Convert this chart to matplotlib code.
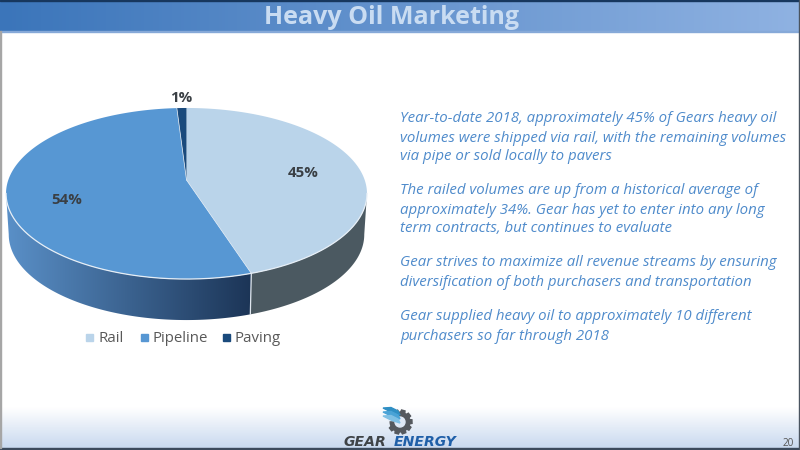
import numpy as np
import matplotlib
matplotlib.use('Agg')
import matplotlib.pyplot as plt
from matplotlib.colors import LinearSegmentedColormap
from matplotlib.patches import Polygon, Rectangle, Circle

# ==========================================
# DATA
# ==========================================
TITLE = 'Heavy Oil Marketing'
CATEGORIES = ['Rail', 'Pipeline', 'Paving']
SHARES = [45, 54, 1]
TOP_COLORS = ['#bad4ea', '#5797d3', '#1a4a7c']
BODY_LINES = [
    'Year-to-date 2018, approximately 45% of Gears heavy oil',
    'volumes were shipped via rail, with the remaining volumes',
    'via pipe or sold locally to pavers',
    'The railed volumes are up from a historical average of',
    'approximately 34%. Gear has yet to enter into any long',
    'term contracts, but continues to evaluate',
    'Gear strives to maximize all revenue streams by ensuring',
    'diversification of both purchasers and transportation',
    'Gear supplied heavy oil to approximately 10 different',
    'purchasers so far through 2018',
]
BODY_Y = [118, 138, 157, 191, 210, 229, 263, 283, 317, 336]
PAGE_NUMBER = '20'

FONT = 'Open Sans'
px = 0.72  # text sizes below are in pixels of the 100 dpi figure

# Pie geometry: a circle seen in perspective
CX, CY = 186.5, 180
A, B, K = 178.2, 83.4, 0.158
DEPTH = 41
WIDEST = np.arccos(-K)  # angle where the top face is widest, on the right side


def project(theta):
    # theta runs clockwise from 12 o'clock
    w = 1 + K * np.cos(theta)
    return CX + A * np.sin(theta) / w, CY - B * np.cos(theta) / w


def wall_outline(start, stop):
    angles = np.linspace(start, stop, 240)
    xs, ys = project(angles)
    low_x = CX + (xs - CX) * 0.985
    return np.column_stack([np.r_[xs, low_x[::-1]], np.r_[ys, ys[::-1] + DEPTH]])


fig = plt.figure(figsize=(8, 4.5), dpi=100)
ax = fig.add_axes([0, 0, 1, 1])

# ==========================================
# PAGE BACKGROUND
# ==========================================
head = LinearSegmentedColormap.from_list('head', ['#3b75ba', '#8fb2e2'])
ax.imshow(np.linspace(0, 1, 256)[None, :], cmap=head, extent=[0, 800, 31.5, 0], aspect='auto', zorder=1)
foot = LinearSegmentedColormap.from_list('foot', ['#ffffff', '#c9d9ef'])
ax.imshow(np.linspace(0, 1, 64)[:, None], cmap=foot, extent=[0, 800, 448, 407], aspect='auto', zorder=1)
ax.set_xlim(0, 800)
ax.set_ylim(450, 0)
ax.axis('off')
ax.add_patch(Rectangle((0, 0), 800, 1.2, color='#17375e', zorder=2))
ax.add_patch(Rectangle((0, 30.5), 800, 1.2, color='#86a9d8', zorder=2))
ax.add_patch(Rectangle((0, 447.5), 800, 2.5, color='#3c4a5c', zorder=2))
ax.add_patch(Rectangle((0, 31), 1.3, 417, color='#a6a6a6', zorder=2))
ax.add_patch(Rectangle((798.8, 0), 1.2, 450, color='#4a5460', zorder=2))

ax.text(392, 17, TITLE, ha='center', va='center', color='#c9dcf2',
        fontsize=25 * px, fontweight='bold', family=FONT, zorder=3)

# ==========================================
# 3D PIE
# ==========================================
edges = np.cumsum([0] + SHARES) / sum(SHARES) * 2 * np.pi

# Side wall: flat grey under rail, gradient under pipeline (front half only)
ax.add_patch(Polygon(wall_outline(WIDEST, edges[1]), closed=True, facecolor='#4b5961', edgecolor='none', zorder=4))
wall = LinearSegmentedColormap.from_list('wall', ['#5a90c8', '#1c3557'])
grad = ax.imshow(np.linspace(0, 1, 256)[None, :], cmap=wall, extent=[6, 251, 325, 180], aspect='auto', zorder=4)
grad.set_clip_path(Polygon(wall_outline(edges[1], 2 * np.pi - WIDEST), closed=True, transform=ax.transData))
ax.set_xlim(0, 800)
ax.set_ylim(450, 0)

# Top face
for i, color in enumerate(TOP_COLORS):
    angles = np.linspace(edges[i], edges[i + 1], 200)
    xs, ys = project(angles)
    pts = np.column_stack([np.r_[CX, xs], np.r_[CY, ys]])
    ax.add_patch(Polygon(pts, closed=True, facecolor=color, edgecolor='none', zorder=5))

# White rim on the front of the top face and the seam on the wall
angles = np.linspace(WIDEST, 2 * np.pi - WIDEST, 300)
xs, ys = project(angles)
ax.plot(xs, ys, color='#e6eef6', lw=0.9, zorder=6)
sx, sy = project(edges[1])
ax.plot([sx, CX + (sx - CX) * 0.985], [sy, sy + DEPTH], color='#dfe6ee', lw=0.9, zorder=6)
for e in edges[1:3]:
    sx, sy = project(e)
    ax.plot([CX, sx], [CY, sy], color='#e6eef6', lw=0.5, zorder=6)

# Data labels
label_pos = [(303, 173), (67, 200), (181, 98)]
for value, (x, y) in zip(SHARES, label_pos):
    ax.text(x, y, f'{value}%', ha='center', va='center', color='#3a3f44',
            fontsize=15 * px, fontweight='bold', family=FONT, zorder=7)

# Legend
legend_x = [(86, 98), (141, 152), (223, 235)]
for name, color, (sq, tx) in zip(CATEGORIES, TOP_COLORS, legend_x):
    ax.add_patch(Rectangle((sq, 334), 6.5, 6.5, color=color, zorder=7))
    ax.text(tx, 338, name, ha='left', va='center', color='#595959',
            fontsize=15 * px, family=FONT, zorder=7)

# ==========================================
# RIGHT HAND TEXT
# ==========================================
for line, y in zip(BODY_LINES, BODY_Y):
    ax.text(400, y, line, ha='left', va='center', color='#4f8bcb',
            fontsize=15 * px, style='italic', family=FONT, zorder=7)

# ==========================================
# LOGO AND PAGE NUMBER
# ==========================================
gx, gy = 400, 422
for a in np.radians(np.arange(-110, 170, 36)):
    ca, sa = np.cos(a), np.sin(a)
    tooth = [(gx + 8 * ca - 2.4 * sa, gy + 8 * sa + 2.4 * ca), (gx + 8 * ca + 2.4 * sa, gy + 8 * sa - 2.4 * ca),
             (gx + 12 * ca + 1.8 * sa, gy + 12 * sa - 1.8 * ca), (gx + 12 * ca - 1.8 * sa, gy + 12 * sa + 1.8 * ca)]
    ax.add_patch(Polygon(tooth, closed=True, color='#55595e', zorder=7))
ax.add_patch(Circle((gx, gy), 9.8, color='#55595e', zorder=7))
ax.add_patch(Circle((gx, gy), 5, color='#dfe8f4', zorder=8))
ax.add_patch(Rectangle((gx - 12, gy - 13), 8, 11, color='#e6edf7', zorder=8))
for dy, c in zip([0, 4, 8], ['#2f8fc4', '#4aa3d6', '#7fc0e4']):
    wing = [(383, 408 + dy), (391, 407.5 + dy), (398, 411 + dy), (400, 415 + dy), (392, 412.5 + dy)]
    ax.add_patch(Polygon(wing, closed=True, color=c, zorder=9))
ax.text(365, 446.5, 'GEAR', ha='center', va='baseline', color='#3f4347',
        fontsize=14 * px, fontweight='bold', style='italic', family='DejaVu Sans', zorder=7)
ax.text(425.5, 446.5, 'ENERGY', ha='center', va='baseline', color='#1f5fa8',
        fontsize=14 * px, fontweight='bold', style='italic', family='DejaVu Sans', zorder=7)
ax.text(788, 443, PAGE_NUMBER, ha='center', va='center', color='#555555',
        fontsize=10 * px, family=FONT, zorder=7)

fig.savefig('out.png', dpi=100)
